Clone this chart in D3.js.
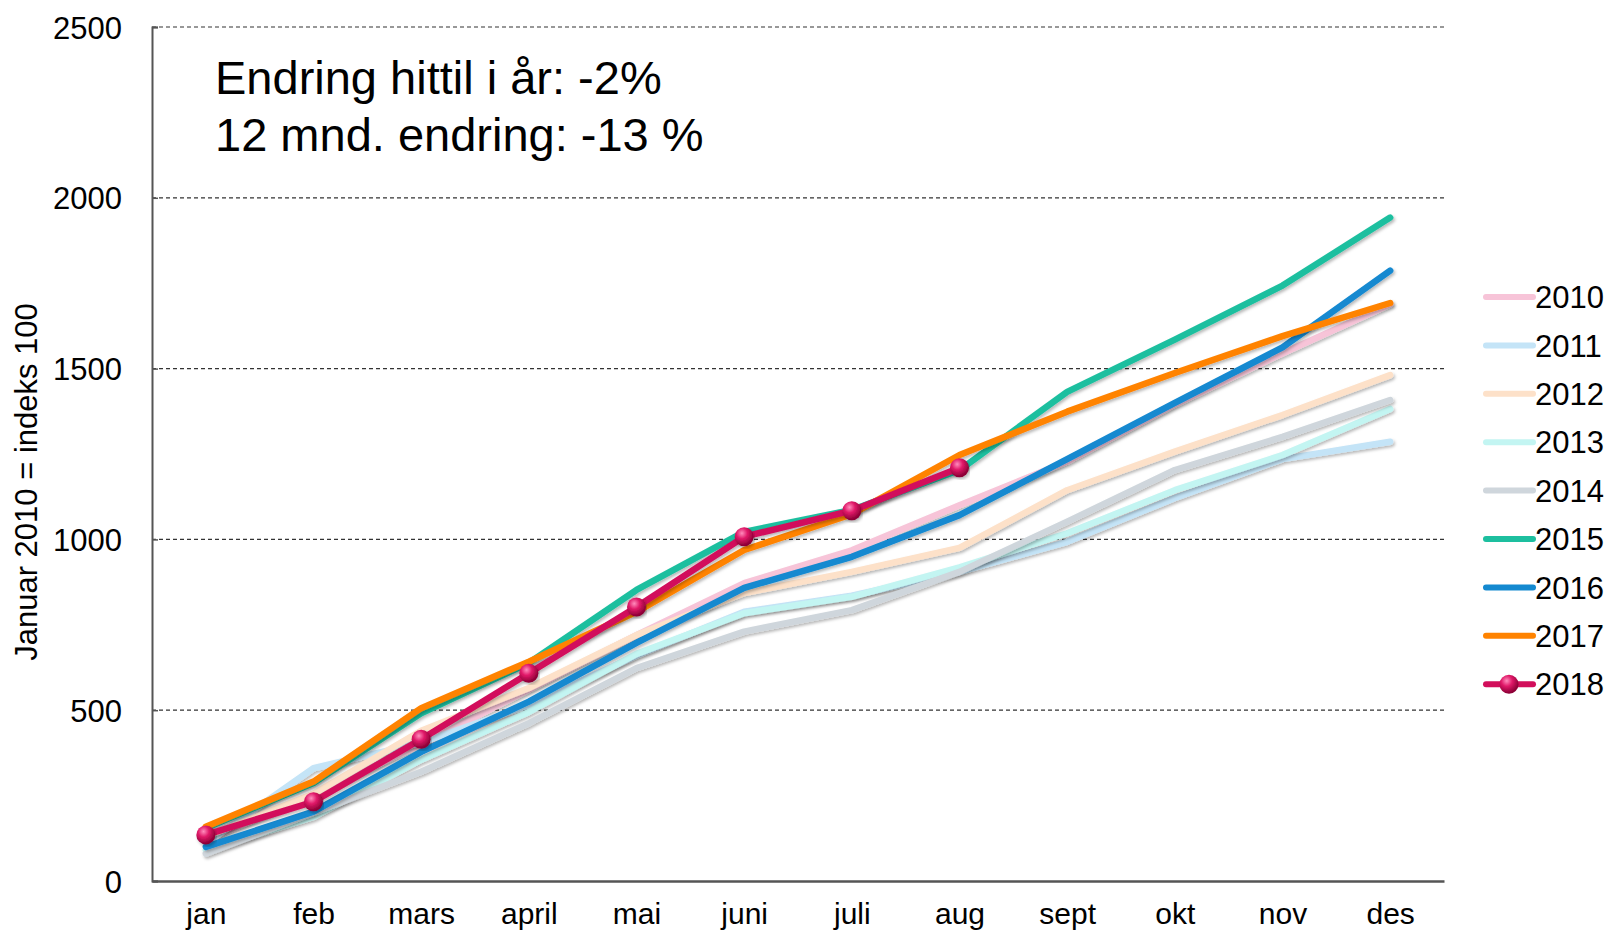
<!DOCTYPE html>
<html>
<head>
<meta charset="utf-8">
<script src="https://cdn.jsdelivr.net/npm/d3@7"></script>
<style>
  body { margin: 0; background: #fff; }
  svg text { font-family: "Liberation Sans", Arial, sans-serif; fill: #000; }
</style>
</head>
<body>
<div id="chart"></div>
<script>
var months = ["jan", "feb", "mars", "april", "mai", "juni", "juli", "aug", "sept", "okt", "nov", "des"]
var years = ["2010", "2011", "2012", "2013", "2014", "2015", "2016", "2017", "2018"]
var y_ticks = [0, 500, 1000, 1500, 2000, 2500]

var v2010 = [120, 255, 400, 560, 720, 872, 968, 1100, 1228, 1395, 1545, 1688]
var v2011 = [110, 330, 405, 515, 660, 788, 835, 905, 993, 1121, 1235, 1286]
var v2012 = [130, 255, 440, 565, 720, 843, 905, 975, 1144, 1257, 1364, 1481]
var v2013 = [90, 188, 355, 495, 665, 784, 832, 918, 1018, 1144, 1247, 1382]
var v2014 = [80, 200, 320, 462, 623, 730, 793, 905, 1052, 1203, 1300, 1408]
var v2015 = [155, 287, 491, 638, 852, 1022, 1086, 1203, 1432, 1585, 1743, 1942]
var v2016 = [100, 203, 378, 525, 697, 858, 949, 1071, 1235, 1400, 1562, 1787]
var v2017 = [159, 291, 506, 642, 788, 969, 1074, 1247, 1374, 1487, 1595, 1692]
var v2018 = [135, 232, 415, 608, 802, 1008, 1084, 1210]

var series_values = [v2010, v2011, v2012, v2013, v2014, v2015, v2016, v2017, v2018]
var colors = ["#f7c4d8", "#c4e4f7", "#fde1c9", "#c3f5f2", "#cfd6dc", "#1dbf9f", "#1489d0", "#ff8300", "#d20f5b"]

var note_lines = ["Endring hittil i år: -2%", "12 mnd. endring: -13 %"]
var y_title = "Januar 2010 = indeks 100"

var width = 1610
var height = 936
var padding = { "left": 152, "right": 166, "top": 27, "bottom": 55 }

var svg = d3.select("#chart")
    .append("svg")
    .attr("width", width)
    .attr("height", height)

var defs = svg.append("defs")
var shadow = defs.append("filter").attr("id", "shadow")
    .attr("x", "-5%").attr("y", "-5%").attr("width", "110%").attr("height", "115%")
shadow.append("feDropShadow")
    .attr("dx", 1.5).attr("dy", 2).attr("stdDeviation", 1.5)
    .attr("flood-color", "#000").attr("flood-opacity", 0.28)
var ball = defs.append("radialGradient").attr("id", "ball")
    .attr("cx", "38%").attr("cy", "32%").attr("r", "65%")
ball.append("stop").attr("offset", "0%").attr("stop-color", "#ff8cbc")
ball.append("stop").attr("offset", "45%").attr("stop-color", "#e01868")
ball.append("stop").attr("offset", "100%").attr("stop-color", "#8c0036")

var x_scale = d3.scalePoint()
    .domain(months)
    .range([padding.left, width - padding.right])
    .padding(0.5)
var y_scale = d3.scaleLinear()
    .domain([0, 2500])
    .range([height - padding.bottom, padding.top])

// gridlines
svg.selectAll(".grid").data(y_ticks.filter(function (d) { return d > 0; }))
    .enter().append("line")
    .attr("x1", padding.left)
    .attr("x2", width - padding.right)
    .attr("y1", function (d) { return y_scale(d); })
    .attr("y2", function (d) { return y_scale(d); })
    .attr("stroke", "#333")
    .attr("stroke-width", 1.2)
    .attr("stroke-dasharray", "4,3")

// y axis
var y_axis = d3.axisLeft(y_scale).tickValues(y_ticks).tickFormat(d3.format("d")).tickSize(-6).tickPadding(30)
var gy = svg.append("g")
    .attr("transform", "translate(" + padding.left + ",0)")
    .call(y_axis)
gy.select(".domain").attr("stroke", "#555").attr("stroke-width", 2)
gy.selectAll(".tick line").attr("stroke", "#555").attr("stroke-width", 1.5)
gy.selectAll(".tick text")
    .attr("font-size", 31)
    .attr("font-family", "Liberation Sans, Arial, sans-serif")
    .attr("fill", "#000")
    .attr("dy", "0.36em")

// x axis
var x_axis = d3.axisBottom(x_scale).tickSize(0).tickPadding(22)
var gx = svg.append("g")
    .attr("transform", "translate(0," + y_scale(0) + ")")
    .call(x_axis)
gx.select(".domain").attr("stroke", "#555").attr("stroke-width", 2.5)
gx.selectAll(".tick text")
    .attr("font-size", 30)
    .attr("font-family", "Liberation Sans, Arial, sans-serif")
    .attr("fill", "#000")
    .attr("dy", "0.7em")

// y title
svg.append("text")
    .text(y_title)
    .attr("transform", "translate(37,482) rotate(-90)")
    .attr("text-anchor", "middle")
    .attr("font-size", 31)

// note text
svg.selectAll(".note").data(note_lines)
    .enter().append("text")
    .attr("x", 215)
    .attr("y", function (d, i) { return 94 + i * 57; })
    .attr("font-size", 47)
    .text(function (d) { return d; })

// lines
var line = d3.line()
    .x(function (d, i) { return x_scale(months[i]); })
    .y(function (d) { return y_scale(d); })

svg.selectAll(".series").data(series_values)
    .enter().append("path")
    .attr("d", function (d) { return line(d); })
    .attr("fill", "none")
    .attr("stroke", function (d, i) { return colors[i]; })
    .attr("stroke-width", 6.5)
    .attr("stroke-linejoin", "round")
    .attr("stroke-linecap", "round")
    .attr("filter", "url(#shadow)")

// 2018 markers
svg.selectAll(".marker").data(v2018)
    .enter().append("circle")
    .attr("cx", function (d, i) { return x_scale(months[i]); })
    .attr("cy", function (d) { return y_scale(d); })
    .attr("r", 9.5)
    .attr("fill", "url(#ball)")
    .attr("filter", "url(#shadow)")

// legend
var legend = svg.selectAll(".legend").data(years)
    .enter().append("g")
    .attr("transform", function (d, i) { return "translate(1486," + (297 + i * 48.4) + ")"; })
legend.append("line")
    .attr("x1", 0).attr("x2", 47)
    .attr("y1", 0).attr("y2", 0)
    .attr("stroke", function (d, i) { return colors[i]; })
    .attr("stroke-width", 6)
    .attr("stroke-linecap", "round")
legend.filter(function (d) { return d == "2018"; })
    .append("circle")
    .attr("cx", 23).attr("cy", 0).attr("r", 9.5)
    .attr("fill", "url(#ball)")
legend.append("text")
    .attr("x", 49)
    .attr("y", 0)
    .attr("dy", "0.36em")
    .attr("font-size", 31)
    .text(function (d) { return d; })
</script>
</body>
</html>
